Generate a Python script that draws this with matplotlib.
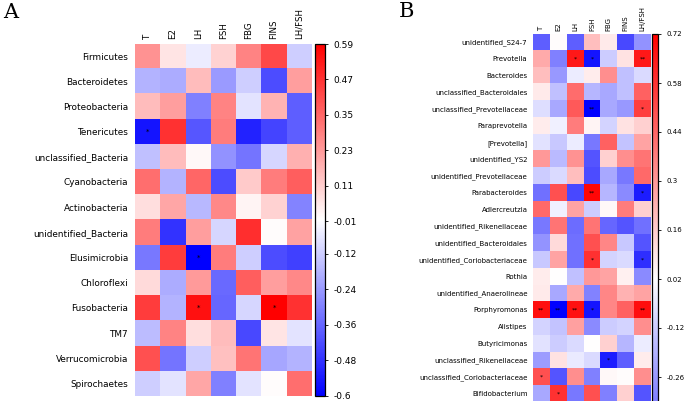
import matplotlib
matplotlib.use('Agg')
import matplotlib.pyplot as plt
import numpy as np

W, H = 685, 401

hormones = ['T', 'E2', 'LH', 'FSH', 'FBG', 'FINS', 'LH/FSH']

# panel A: phylum level
taxa_a = ['Firmicutes', 'Bacteroidetes', 'Proteobacteria', 'Tenericutes',
          'unclassified_Bacteria', 'Cyanobacteria', 'Actinobacteria',
          'unidentified_Bacteria', 'Elusimicrobia', 'Chloroflexi',
          'Fusobacteria', 'TM7', 'Verrucomicrobia', 'Spirochaetes']
corr_a = [
    [0.25, 0.06, -0.05, 0.10, 0.28, 0.42, -0.12],
    [-0.18, -0.20, 0.15, -0.24, -0.12, -0.42, 0.22],
    [0.15, 0.22, -0.30, 0.28, -0.07, 0.17, -0.38],
    [-0.55, 0.47, -0.40, 0.30, -0.52, -0.44, -0.38],
    [-0.15, 0.15, 0.01, -0.26, -0.33, -0.10, 0.18],
    [0.33, -0.18, 0.35, -0.42, 0.12, 0.30, 0.37],
    [0.07, 0.20, -0.17, 0.27, 0.02, 0.10, -0.29],
    [0.30, -0.48, 0.22, -0.10, 0.48, 0.00, 0.21],
    [-0.32, 0.45, -0.60, 0.30, -0.12, -0.42, -0.45],
    [0.08, -0.20, 0.23, -0.35, 0.37, 0.22, 0.27],
    [0.45, -0.18, 0.55, -0.36, -0.10, 0.59, 0.47],
    [-0.16, 0.28, 0.07, 0.15, -0.43, 0.06, -0.07],
    [0.40, -0.33, -0.12, 0.14, 0.32, -0.21, -0.18],
    [-0.12, -0.07, 0.20, -0.30, -0.07, 0.00, 0.33],
]
stars_a = [['' for _ in hormones] for _ in taxa_a]
stars_a[3][0] = '*'
stars_a[8][2] = '*'
stars_a[10][2] = '*'
stars_a[10][5] = '*'
ticks_a = [0.59, 0.47, 0.35, 0.23, 0.11, -0.01, -0.12, -0.24, -0.36, -0.48, -0.6]

# panel B: genus level
taxa_b = ['unidentified_S24-7', 'Prevotella', 'Bacteroides',
          'unclassified_Bacteroidales', 'unclassified_Prevotellaceae',
          'Paraprevotella', '[Prevotella]', 'unidentified_YS2',
          'unidentified_Prevotellaceae', 'Parabacteroides', 'Adlercreutzia',
          'unidentified_Rikenellaceae', 'unidentified_Bacteroidales',
          'unidentified_Coriobacteriaceae', 'Rothia', 'unidentified_Anaerolineae',
          'Porphyromonas', 'Alistipes', 'Butyricimonas',
          'unclassified_Rikenellaceae', 'unclassified_Coriobacteriaceae',
          'Bifidobacterium']
corr_b = [
    [-0.42, 0.03, -0.42, 0.20, 0.08, -0.48, -0.28],
    [0.25, -0.33, 0.65, -0.62, -0.12, 0.10, 0.65],
    [0.20, -0.26, -0.03, 0.07, 0.33, -0.15, -0.08],
    [0.08, -0.15, 0.42, -0.18, -0.22, -0.15, 0.45],
    [-0.07, -0.22, 0.47, -0.68, -0.22, -0.26, 0.55],
    [0.07, -0.02, 0.38, 0.05, -0.10, 0.10, 0.15],
    [-0.06, -0.13, -0.03, -0.35, 0.45, -0.14, 0.27],
    [0.30, -0.17, 0.32, -0.45, 0.15, 0.33, 0.40],
    [-0.12, -0.08, 0.20, -0.47, -0.22, -0.35, 0.43],
    [-0.37, 0.50, -0.48, 0.70, -0.18, -0.30, -0.60],
    [0.43, -0.02, 0.27, -0.12, 0.04, 0.38, 0.15],
    [-0.35, 0.40, -0.38, 0.40, -0.40, -0.45, -0.37],
    [-0.27, 0.12, -0.37, 0.50, 0.35, -0.13, -0.45],
    [-0.13, 0.27, -0.37, 0.58, -0.10, -0.08, -0.55],
    [0.07, 0.02, -0.15, 0.30, 0.27, 0.06, -0.30],
    [0.08, -0.22, 0.25, -0.32, 0.35, 0.23, 0.27],
    [0.68, -0.70, 0.67, -0.62, 0.35, 0.45, 0.68],
    [-0.10, -0.14, 0.28, -0.30, -0.12, -0.10, 0.33],
    [-0.06, -0.12, -0.08, 0.02, 0.15, -0.18, -0.03],
    [-0.25, 0.10, -0.04, -0.08, -0.60, -0.42, 0.07],
    [0.50, -0.45, 0.33, -0.33, 0.04, 0.03, 0.33],
    [-0.22, 0.58, -0.35, 0.50, -0.33, 0.15, -0.45],
]
stars_b = [['' for _ in hormones] for _ in taxa_b]
stars_b[1][2] = '*'
stars_b[1][3] = '*'
stars_b[1][6] = '**'
stars_b[4][3] = '**'
stars_b[4][6] = '*'
stars_b[9][3] = '**'
stars_b[9][6] = '*'
stars_b[13][3] = '*'
stars_b[13][6] = '*'
stars_b[16][0] = '**'
stars_b[16][1] = '**'
stars_b[16][2] = '**'
stars_b[16][3] = '*'
stars_b[16][6] = '**'
stars_b[19][4] = '*'
stars_b[20][0] = '*'
stars_b[21][1] = '*'
# only the ticks that fall inside the (cropped) picture
ticks_b = [0.72, 0.58, 0.44, 0.3, 0.16, 0.02, -0.12, -0.26]


def px_rect(left, top, width, height):
    # pixel box (from top-left) -> figure fraction
    return [left / W, (H - top - height) / H, width / W, height / H]


def draw_heat(fig, rect, cbar_rect, taxa, corr, stars, ticks, vmin, vmax,
              row_fs, col_fs, cb_fs, star_fs, row_pad, col_pad):
    ax = fig.add_axes(rect)
    data = np.array(corr)
    im = ax.imshow(data, cmap='bwr', vmin=vmin, vmax=vmax, aspect='auto',
                   interpolation='nearest')
    ax.set_xticks(np.arange(len(hormones)))
    ax.set_xticklabels(hormones, rotation=90, fontsize=col_fs)
    ax.set_yticks(np.arange(len(taxa)))
    ax.set_yticklabels(taxa, fontsize=row_fs)
    ax.xaxis.tick_top()
    ax.tick_params(axis='x', length=0, pad=col_pad)
    ax.tick_params(axis='y', length=0, pad=row_pad)
    for s in ax.spines.values():
        s.set_visible(False)
    for i in range(len(taxa)):
        for j in range(len(hormones)):
            if stars[i][j]:
                ax.text(j, i, stars[i][j], ha='center', va='center',
                        fontsize=star_fs, color='black')

    cax = fig.add_axes(cbar_rect)
    cb = fig.colorbar(im, cax=cax, ticks=ticks)
    cb.ax.set_yticklabels([str(t) for t in ticks])
    cb.ax.tick_params(labelsize=cb_fs, length=2, width=0.6, pad=4)
    cb.outline.set_linewidth(0.9)
    return ax


fig = plt.figure(figsize=(W / 100, H / 100), dpi=100)

draw_heat(fig, px_rect(135, 43.5, 177, 352.5), px_rect(315, 44, 10, 351.5),
          taxa_a, corr_a, stars_a, ticks_a, -0.6, 0.59,
          row_fs=6.4, col_fs=6.2, cb_fs=6.5, star_fs=5, row_pad=5, col_pad=3)

rows_b = len(taxa_b)
# the colorbar of panel B runs past the bottom edge, as in the cropped original
draw_heat(fig, px_rect(533, 33.5, 118, 16.75 * rows_b), px_rect(652, 34, 6, 490),
          taxa_b, corr_b, stars_b, ticks_b, -0.68, 0.72,
          row_fs=5, col_fs=5, cb_fs=5, star_fs=4.5, row_pad=4, col_pad=2)

fig.text(3 / W, 1 - 3 / H, 'A', fontsize=15, family='DejaVu Serif',
         va='top', ha='left')
fig.text(399 / W, 1 - 2 / H, 'B', fontsize=15, family='DejaVu Serif',
         va='top', ha='left')

fig.savefig('out.png', dpi=100)
